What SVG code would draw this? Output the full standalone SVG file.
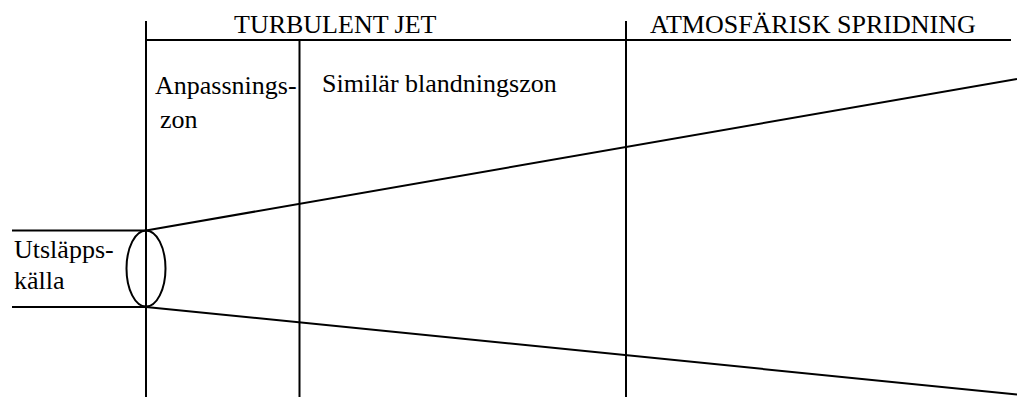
<svg xmlns="http://www.w3.org/2000/svg" width="1017" height="398" viewBox="0 0 1017 398">
<style>
.ln{stroke:#000;stroke-width:2;fill:none}
.t{font-family:'Liberation Serif','Times New Roman',Times,'DejaVu Serif',serif;font-size:26px;fill:#000}
</style>
<rect width="1017" height="398" fill="#fff"/>
<g id="frame">
<line class="ln" x1="146" y1="21" x2="146" y2="397"/>
<line class="ln" x1="299.5" y1="40" x2="299.5" y2="397"/>
<line class="ln" x1="626" y1="21" x2="626" y2="397"/>
<line class="ln" x1="146" y1="40" x2="1011" y2="40"/>
</g>
<g id="headers" font-family="Liberation Serif, serif">
<text class="t" x="234" y="33">TURBULENT JET</text>
<text class="t" x="650" y="33">ATMOSFÄRISK SPRIDNING</text>
</g>
<g id="zone-anpassning">
<text class="t" x="155" y="94">Anpassnings-</text>
<text class="t" x="160" y="128">zon</text>
</g>
<g id="zone-similar">
<text class="t" x="322" y="92">Similär blandningszon</text>
</g>
<g id="source">
<line class="ln" x1="12" y1="230.5" x2="146" y2="230.5"/>
<line class="ln" x1="12" y1="307" x2="146" y2="307"/>
<ellipse class="ln" cx="146" cy="268.5" rx="19.5" ry="38"/>
<text class="t" x="14" y="258">Utsläpps-</text>
<text class="t" x="14" y="289">källa</text>
</g>
<g id="connectors">
<line class="ln" x1="146" y1="230.5" x2="1017" y2="79"/>
<line class="ln" x1="146" y1="307" x2="1017" y2="394.5"/>
</g>
</svg>
